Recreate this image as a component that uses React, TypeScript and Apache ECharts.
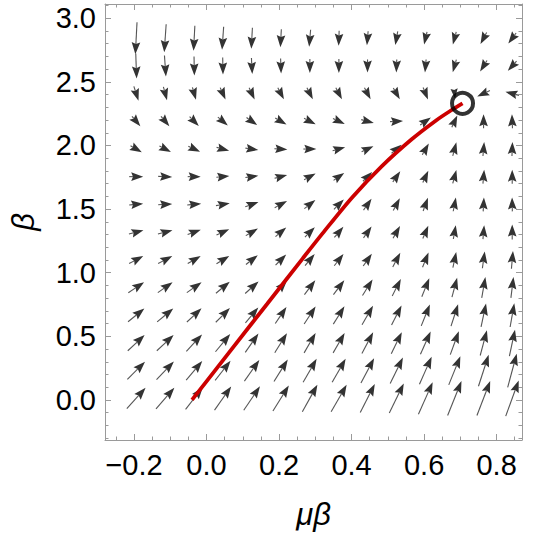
import { useEffect, useRef } from "react";
import * as echarts from "echarts";

// ---- axes ----
const X_MIN = -0.28;
const X_MAX = 0.87;
const Y_MIN = -0.315;
const Y_MAX = 3.112;
const xMajorTicks = [-0.2, 0.0, 0.2, 0.4, 0.6, 0.8];
const xMinorTicks = [-0.25, -0.15, -0.1, -0.05, 0.05, 0.1, 0.15, 0.25, 0.3, 0.35, 0.45, 0.5, 0.55, 0.65, 0.7, 0.75, 0.85];
const yMajorTicks = [0.0, 0.5, 1.0, 1.5, 2.0, 2.5, 3.0];
const yMinorTicks = [-0.3, -0.2, -0.1, 0.1, 0.2, 0.3, 0.4, 0.6, 0.7, 0.8, 0.9, 1.1, 1.2, 1.3, 1.4, 1.6, 1.7, 1.8, 1.9, 2.1, 2.2, 2.3, 2.4, 2.6, 2.7, 2.8, 2.9, 3.1];

// ---- vector field sample points ----
const gridMuBeta = [-0.194, -0.114, -0.034, 0.045, 0.125, 0.205, 0.285, 0.365, 0.444, 0.524, 0.604, 0.684, 0.764, 0.843];
// rows from top to bottom
const gridBeta = [2.843, 2.625, 2.408, 2.19, 1.972, 1.755, 1.537, 1.319, 1.101, 0.884, 0.666, 0.448, 0.231, 0.013];

// arrow direction (degrees, counter-clockwise from +μβ), rows top to bottom
const arrowAngle = [
  [-93, -94, -93, -94, -93, -93, -95, -92, -95, -100, -103, -105, -118, -127],
  [-88, -86, -89, -89, -87, -88, -90, -90, -90, -92, -95, -106, -122, -132],
  [-72, -75, -74, -66, -65, -62, -63, -62, -62, -60, -68, -85, -155, 165],
  [-50, -50, -45, -40, -35, -30, -27, -25, -15, 3, 35, 65, 90, 92],
  [-30, -28, -25, -15, -8, -3, 0, 15, 25, 40, 60, 75, 85, 88],
  [0, -2, 0, 5, 8, 15, 28, 35, 45, 55, 65, 75, 85, 90],
  [5, 3, 5, 10, 20, 28, 38, 45, 55, 62, 70, 79, 87, 91],
  [15, 15, 20, 25, 30, 40, 45, 50, 55, 60, 67, 80, 85, 90],
  [28, 28, 30, 32, 38, 45, 50, 52, 55, 62, 68, 78, 82, 85],
  [34, 35, 35, 40, 42, 48, 53, 53, 58, 63, 68, 75, 80, 83],
  [39, 40, 43, 45, 50, 56, 57, 58, 60, 63, 68, 72, 78, 80],
  [43, 43, 47, 50, 55, 58, 60, 60, 62, 64, 66, 70, 75, 78],
  [45, 46, 50, 52, 55, 58, 60, 60, 62, 64, 66, 68, 72, 75],
  [48, 49, 52, 55, 56, 58, 61, 60, 63, 64, 66, 68, 69, 70],
];

// arrow length in pixels, rows top to bottom
const arrowLength = [
  [32, 28, 25, 23, 21, 18, 17, 15, 14, 14, 13, 13, 13, 13],
  [25, 21, 19, 17, 16, 15, 14, 14, 13, 13, 13, 13, 13, 13],
  [15, 14, 13, 13, 13, 13, 13, 13, 13, 13, 13, 10, 14, 14],
  [13, 13, 13, 13, 13, 13, 13, 13, 13, 13, 13, 13, 14, 14],
  [13, 13, 13, 13, 13, 13, 13, 13, 13, 13, 13, 14, 14, 14],
  [14, 14, 13, 13, 13, 13, 13, 13, 13, 13, 13, 14, 14, 14],
  [14, 14, 14, 14, 14, 14, 14, 14, 14, 14, 14, 14, 14, 14],
  [15, 15, 14, 14, 14, 14, 14, 14, 14, 14, 14, 14, 14, 15],
  [16, 16, 15, 15, 15, 15, 15, 15, 15, 16, 16, 16, 17, 18],
  [19, 18, 18, 18, 18, 18, 18, 18, 19, 19, 20, 20, 21, 21],
  [21, 21, 20, 20, 20, 20, 21, 21, 22, 22, 23, 23, 24, 24],
  [23, 23, 23, 23, 23, 23, 23, 23, 24, 24, 25, 25, 26, 27],
  [25, 25, 25, 25, 26, 26, 27, 27, 28, 29, 30, 31, 33, 35],
  [28, 28, 28, 29, 29, 30, 31, 31, 32, 33, 35, 37, 37, 38],
];

// ---- trajectory and fixed point ----
const flowMuBeta = [-0.04, 0.063, 0.167, 0.265, 0.32, 0.401, 0.483, 0.565, 0.633, 0.674, 0.706];
const flowBeta = [0.0, 0.376, 0.754, 1.111, 1.309, 1.59, 1.836, 2.047, 2.197, 2.275, 2.331];
const fixedPoint = [0.706, 2.331];

const FONT = "'Liberation Sans', Arial, sans-serif";
const FRAME = "#9a9a9a";
const HEAD_LEN = 12;
const HEAD_HALF = 4.3;

const fmt = (v: number) => v.toFixed(1).replace("-", "\u2212");

export default function App() {
  const ref = useRef<HTMLDivElement>(null);
  useEffect(() => {
    document.body.style.margin = "0";
    if (!ref.current) return;
    const chart = echarts.init(ref.current, undefined, { renderer: "svg" });

    const arrows: number[][] = [];
    gridBeta.forEach((b, r) => {
      gridMuBeta.forEach((m, c) => {
        arrows.push([m, b, arrowAngle[r][c], arrowLength[r][c]]);
      });
    });
    const flow = flowMuBeta.map((m, i) => [m, flowBeta[i]]);

    const xAxisBase = (position: string, major: boolean, withLine: boolean) => ({
      type: "value",
      min: X_MIN,
      max: X_MAX,
      position,
      axisLine: { show: withLine, onZero: false, lineStyle: { color: FRAME, width: 1 } },
      axisTick: {
        show: true,
        inside: true,
        length: major ? 6 : 3.5,
        customValues: major ? xMajorTicks : xMinorTicks,
        lineStyle: { color: FRAME, width: 1 },
      },
      axisLabel: { show: false },
      splitLine: { show: false },
    });
    const yAxisBase = (position: string, major: boolean, withLine: boolean) => ({
      type: "value",
      min: Y_MIN,
      max: Y_MAX,
      position,
      axisLine: { show: withLine, onZero: false, lineStyle: { color: FRAME, width: 1 } },
      axisTick: {
        show: true,
        inside: true,
        length: major ? 6 : 3.5,
        customValues: major ? yMajorTicks : yMinorTicks,
        lineStyle: { color: FRAME, width: 1 },
      },
      axisLabel: { show: false },
      splitLine: { show: false },
    });

    const option: any = {
      animation: false,
      backgroundColor: "#ffffff",
      grid: { left: 100, right: 18, top: 4, bottom: 93, containLabel: false },
      xAxis: [
        {
          ...xAxisBase("bottom", true, true),
          axisLabel: {
            show: true,
            customValues: xMajorTicks,
            formatter: fmt,
            color: "#000",
            fontSize: 29,
            fontFamily: FONT,
            margin: 10,
          },
          name: "\u03bc\u03b2",
          nameLocation: "middle",
          nameGap: 59,
          nameTextStyle: { fontSize: 31, fontStyle: "italic", fontFamily: FONT, color: "#000" },
        },
        xAxisBase("bottom", false, false),
        xAxisBase("top", true, true),
        xAxisBase("top", false, false),
      ],
      yAxis: [
        {
          ...yAxisBase("left", true, true),
          axisLabel: {
            show: true,
            customValues: yMajorTicks,
            formatter: fmt,
            color: "#000",
            fontSize: 29,
            fontFamily: FONT,
            margin: 9,
          },
          name: "\u03b2",
          nameLocation: "middle",
          nameGap: 66,
          nameTextStyle: { fontSize: 31, fontStyle: "italic", fontFamily: FONT, color: "#000" },
        },
        yAxisBase("left", false, false),
        yAxisBase("right", true, true),
        yAxisBase("right", false, false),
      ],
      series: [
        {
          type: "custom",
          xAxisIndex: 0,
          yAxisIndex: 0,
          encode: { x: 0, y: 1 },
          clip: false,
          silent: true,
          data: arrows,
          renderItem: (_params: any, api: any) => {
            const p = api.coord([api.value(0), api.value(1)]);
            const a = (api.value(2) * Math.PI) / 180;
            const L = api.value(3);
            const ux = Math.cos(a);
            const uy = -Math.sin(a);
            const nx = -uy;
            const ny = ux;
            const tip = [p[0] + (ux * L) / 2, p[1] + (uy * L) / 2];
            const tail = [p[0] - (ux * L) / 2, p[1] - (uy * L) / 2];
            const hl = Math.min(HEAD_LEN, L);
            const hw = (HEAD_HALF * hl) / HEAD_LEN;
            const bx = tip[0] - ux * hl;
            const by = tip[1] - uy * hl;
            const notch = [tip[0] - ux * hl * 0.85, tip[1] - uy * hl * 0.85];
            const children: any[] = [];
            if (L > hl + 0.5) {
              children.push({
                type: "line",
                shape: { x1: tail[0], y1: tail[1], x2: notch[0], y2: notch[1] },
                style: { stroke: "#555555", lineWidth: 1.1 },
              });
            }
            children.push({
              type: "polygon",
              shape: {
                points: [tip, [bx + nx * hw, by + ny * hw], notch, [bx - nx * hw, by - ny * hw]],
              },
              style: { fill: "#333333" },
            });
            return { type: "group", children };
          },
        },
        {
          type: "line",
          xAxisIndex: 0,
          yAxisIndex: 0,
          data: flow,
          smooth: 0.3,
          symbol: "none",
          silent: true,
          lineStyle: { color: "#cc0000", width: 3.8 },
          z: 3,
        },
        {
          type: "scatter",
          xAxisIndex: 0,
          yAxisIndex: 0,
          data: [fixedPoint],
          symbol: "circle",
          symbolSize: 21,
          silent: true,
          itemStyle: { color: "rgba(0,0,0,0)", borderColor: "#000000", borderWidth: 4 },
          z: 4,
        },
      ],
    };
    chart.setOption(option);
    return () => chart.dispose();
  }, []);
  return <div ref={ref} style={{ width: 540, height: 535 }} />;
}
